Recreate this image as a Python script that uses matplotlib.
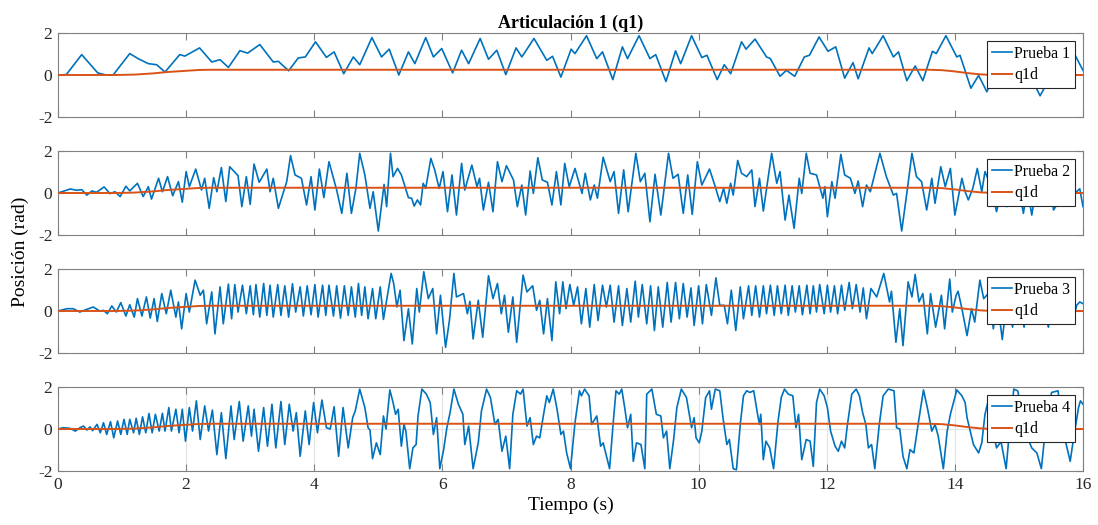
import matplotlib
matplotlib.use("Agg")
import matplotlib.pyplot as plt

# ---------------- data ----------------
p1 = [(0, 0), (0.13, 0.02), (0.37, 0.97), (0.62, 0.1), (0.75, 0.0), (0.86, 0.0), (1.12, 1.02), (1.25, 0.78),
      (1.41, 0.54), (1.54, 0.49), (1.67, 0.14), (1.90, 0.97), (1.98, 0.9), (2.21, 1.29), (2.40, 0.62),
      (2.53, 0.73), (2.66, 0.36), (2.84, 1.16), (2.96, 1.04), (3.15, 1.45), (3.36, 0.62), (3.44, 0.65),
      (3.60, 0.2), (3.75, 0.81), (3.86, 0.86), (4.02, 1.58), (4.19, 0.84), (4.31, 1.1), (4.46, 0.06),
      (4.61, 0.86), (4.71, 0.49), (4.90, 1.78), (5.05, 0.86), (5.17, 1.23), (5.32, 0.0), (5.47, 1.1),
      (5.57, 0.54), (5.74, 1.78), (5.86, 0.86), (5.99, 1.26), (6.16, 0.1), (6.30, 1.18), (6.41, 0.54),
      (6.59, 1.74), (6.72, 0.75), (6.85, 1.18), (6.99, 0.02), (7.15, 1.29), (7.24, 0.86), (7.43, 1.74),
      (7.63, 0.7), (7.72, 0.89), (7.85, -0.1), (8.01, 1.23), (8.07, 1.02), (8.25, 1.87), (8.41, 0.78),
      (8.50, 1.1), (8.66, -0.22), (8.81, 1.34), (8.89, 0.78), (9.07, 1.87), (9.24, 0.78), (9.33, 0.97),
      (9.49, -0.31), (9.64, 1.15), (9.72, 0.54), (9.89, 1.87), (10.05, 0.83), (10.13, 0.94), (10.29, -0.22),
      (10.40, 0.49), (10.50, 0.06), (10.67, 1.58), (10.74, 1.23), (10.88, 1.71), (11.06, 0.86), (11.12, 0.78),
      (11.27, -0.06), (11.37, 0.22), (11.50, -0.06), (11.65, 0.86), (11.73, 0.94), (11.88, 1.81), (12.02, 1.13),
      (12.14, 1.34), (12.28, -0.15), (12.41, 0.59), (12.49, -0.18), (12.66, 1.29), (12.71, 1.02), (12.88, 1.87),
      (13.04, 0.86), (13.12, 1.1), (13.25, -0.27), (13.38, 0.43), (13.50, -0.27), (13.65, 1.13), (13.71, 1.02),
      (13.86, 1.87), (14.03, 0.86), (14.08, 0.94), (14.25, -0.63), (14.37, -0.02), (14.50, -0.8), (14.72, 0.9),
      (14.95, 0.2), (15.05, 0.45), (15.20, -0.18), (15.33, -0.99), (15.43, -0.43), (15.72, 1.5), (15.85, 1.1),
      (16.0, 0.22)]

p2 = [(0, 0), (0.19, 0.19), (0.29, 0.13), (0.37, 0.16), (0.45, -0.1), (0.53, 0.1), (0.60, 0.03), (0.72, 0.29),
      (0.81, -0.03), (0.89, 0.06), (0.97, -0.17), (1.06, 0.32), (1.12, 0.1), (1.24, 0.46), (1.33, -0.17),
      (1.41, 0.3), (1.46, -0.29), (1.57, 0.7), (1.63, 0.06), (1.71, 0.78), (1.79, -0.13), (1.88, 0.54),
      (1.94, -0.44), (2.00, 1.02), (2.05, 0.3), (2.15, 1.14), (2.24, 0.14), (2.29, 0.7), (2.36, -0.73),
      (2.43, 0.73), (2.48, 0.06), (2.55, 1.21), (2.62, -0.41), (2.68, 1.25), (2.81, 0.83), (2.87, -0.65),
      (2.94, 0.78), (3.00, -0.54), (3.06, 1.38), (3.14, 0.51), (3.26, 1.14), (3.31, 0.06), (3.36, 0.7),
      (3.44, -0.73), (3.52, 0.06), (3.57, 0.54), (3.63, 1.78), (3.70, 0.86), (3.80, 0.7), (3.88, -0.57),
      (3.95, 0.78), (4.01, -0.81), (4.08, 1.14), (4.15, -0.22), (4.23, 1.49), (4.35, 0.14), (4.43, -0.97),
      (4.51, 0.94), (4.58, -0.97), (4.65, 0.22), (4.71, 1.89), (4.79, 0.86), (4.87, -0.73), (4.92, 0.06),
      (5.00, -1.81), (5.09, 0.41), (5.13, -0.65), (5.19, 1.89), (5.23, 0.78), (5.30, 1.17), (5.36, 0.86),
      (5.47, -0.22), (5.52, -0.25), (5.56, -0.62), (5.61, -0.33), (5.66, -0.57), (5.70, 0.46), (5.74, 0.22),
      (5.82, 1.65), (5.88, 1.1), (5.95, 0.22), (6.01, 1.02), (6.08, -0.89), (6.15, 0.86), (6.22, -1.05),
      (6.30, 1.41), (6.35, 0.14), (6.46, 1.33), (6.54, 0.3), (6.58, 0.7), (6.64, -0.81), (6.72, 0.51),
      (6.79, -0.89), (6.86, 1.49), (6.93, 0.54), (7.00, 1.3), (7.11, 0.62), (7.17, -0.65), (7.24, 0.38),
      (7.30, -1.05), (7.37, 1.05), (7.42, -0.02), (7.49, 1.68), (7.56, 0.62), (7.64, 0.51), (7.71, -0.57),
      (7.78, 1.02), (7.85, -0.57), (7.91, 1.41), (7.98, 0.3), (8.07, 1.17), (8.18, -0.02), (8.23, 0.94),
      (8.31, -0.33), (8.37, 0.38), (8.42, -0.25), (8.51, 1.7), (8.62, 0.54), (8.68, 1.02), (8.75, -0.97),
      (8.83, 1.1), (8.90, -0.89), (9.02, 1.89), (9.09, 0.54), (9.16, 0.94), (9.24, -1.37), (9.32, 0.89),
      (9.41, -1.05), (9.53, 1.89), (9.60, 0.7), (9.68, 0.89), (9.76, -0.97), (9.83, 0.86), (9.90, -1.02),
      (9.98, 1.49), (10.05, 0.38), (10.17, 1.14), (10.26, 0.3), (10.33, -0.41), (10.39, 0.22), (10.44, -0.49),
      (10.50, 0.46), (10.54, -0.1), (10.61, 1.55), (10.67, 0.94), (10.75, 0.78), (10.83, 1.1), (10.88, -0.65),
      (10.95, 0.7), (11.01, -0.86), (11.14, 1.89), (11.22, 0.46), (11.27, 1.02), (11.35, -1.29), (11.41, -0.1),
      (11.49, -1.68), (11.57, 0.7), (11.61, -0.02), (11.68, 1.89), (11.74, 0.94), (11.84, 0.86), (11.94, -0.25),
      (11.97, 0.3), (12.01, -1.13), (12.08, 0.54), (12.13, -0.25), (12.22, 1.84), (12.28, 0.86), (12.37, 0.7),
      (12.44, -0.02), (12.49, 0.57), (12.56, -0.65), (12.62, 0.38), (12.68, 0.06), (12.83, 1.89), (12.93, 0.78),
      (13.04, -0.1), (13.09, -0.02), (13.17, -1.81), (13.26, 0.22), (13.33, 1.89), (13.40, 0.78), (13.48, 0.54),
      (13.56, -0.81), (13.64, 0.7), (13.69, -0.49), (13.78, 1.25), (13.85, 0.3), (13.93, 1.17), (14.00, -1.05),
      (14.11, 0.7), (14.16, 0.06), (14.21, -0.33), (14.28, 0.22), (14.35, 1.17), (14.42, 0.06), (14.47, 1.02),
      (14.57, 0.3), (14.65, -0.89), (14.72, 0.0), (14.76, -0.33), (14.81, -0.65), (14.90, 0.9), (15.00, 0.2),
      (15.07, -0.97), (15.13, 0.3), (15.20, -1.05), (15.30, 0.8), (15.40, 0.4), (15.47, 1.0), (15.54, -0.81),
      (15.64, -0.33), (15.70, 0.7), (15.80, 0.3), (15.90, 0.06), (15.95, 0.2), (16.0, -0.65)]

p3 = [(0, 0), (0.14, 0.11), (0.24, 0.11), (0.34, -0.05), (0.45, 0.08), (0.55, 0.19), (0.65, 0.0), (0.71, 0.03),
      (0.77, -0.13), (0.84, 0.24), (0.91, -0.05), (0.98, 0.4), (1.06, -0.24), (1.12, 0.3), (1.19, -0.29),
      (1.24, 0.59), (1.31, -0.24), (1.38, 0.67), (1.44, -0.34), (1.50, 0.59), (1.55, -0.5), (1.62, 0.83),
      (1.69, -0.13), (1.76, 0.99), (1.84, -0.29), (1.88, 0.43), (1.93, -0.85), (2.00, 0.83), (2.05, -0.05),
      (2.14, 1.47), (2.22, 0.75), (2.27, 0.99), (2.32, -0.61), (2.40, 0.91), (2.45, -1.09), (2.53, 1.15),
      (2.58, -0.61), (2.66, 1.28), (2.71, -0.37), (2.76, 1.26), (2.81, -0.05), (2.88, 1.23), (2.94, -0.13),
      (3.00, 1.2), (3.05, -0.18), (3.09, 1.26), (3.15, -0.29), (3.21, 1.31), (3.26, -0.21), (3.31, 1.23),
      (3.36, -0.29), (3.43, 1.26), (3.48, -0.21), (3.54, 1.2), (3.60, -0.29), (3.66, 1.3), (3.71, -0.05),
      (3.78, 1.15), (3.83, -0.24), (3.89, 1.2), (3.95, -0.18), (4.01, 1.26), (4.06, -0.29), (4.13, 1.23),
      (4.18, -0.21), (4.23, 1.23), (4.30, -0.24), (4.35, 1.2), (4.41, -0.34), (4.47, 1.2), (4.53, -0.21),
      (4.58, 1.15), (4.64, -0.29), (4.69, 1.31), (4.74, -0.21), (4.79, 1.15), (4.84, -0.37), (4.91, 1.07),
      (4.96, -0.37), (5.03, 1.15), (5.08, -0.4), (5.20, 1.79), (5.24, 1.31), (5.29, 0.19), (5.34, 0.99),
      (5.40, -1.41), (5.47, 0.11), (5.53, -1.57), (5.60, 1.07), (5.64, -0.05), (5.71, 1.87), (5.78, 0.59),
      (5.85, 1.07), (5.91, -1.09), (5.97, 0.75), (6.05, -1.73), (6.11, -0.45), (6.18, 1.79), (6.22, 0.67),
      (6.33, 0.83), (6.39, -0.13), (6.43, 0.46), (6.48, -1.33), (6.56, 0.51), (6.63, -1.25), (6.72, 1.68),
      (6.79, 0.59), (6.86, 1.31), (6.92, -0.13), (6.97, 0.75), (7.03, -1.01), (7.10, 0.67), (7.16, -1.49),
      (7.26, 1.71), (7.32, 0.91), (7.41, 1.2), (7.47, 0.03), (7.52, 0.51), (7.58, -1.09), (7.64, 0.59),
      (7.71, -1.41), (7.77, 1.39), (7.83, -0.13), (7.88, 1.39), (7.93, 0.11), (7.99, 1.26), (8.05, 0.27),
      (8.11, 1.15), (8.17, -0.61), (8.24, 1.07), (8.30, -0.77), (8.37, 1.26), (8.43, -0.45), (8.50, 1.23),
      (8.56, 0.19), (8.62, 1.23), (8.68, -0.53), (8.75, 1.2), (8.81, -0.69), (8.88, 1.07), (8.94, -0.53),
      (9.01, 1.42), (9.06, -0.29), (9.12, 1.26), (9.19, -0.61), (9.25, 1.2), (9.31, -0.93), (9.37, 1.15),
      (9.44, -0.77), (9.51, 1.36), (9.57, -0.53), (9.64, 1.36), (9.70, -0.37), (9.76, 1.31), (9.82, -0.29),
      (9.88, 1.1), (9.93, -0.69), (10.00, 1.2), (10.06, -0.61), (10.12, 1.26), (10.20, -0.21), (10.27, 1.58),
      (10.33, 0.27), (10.40, 0.27), (10.45, -0.61), (10.51, 0.99), (10.58, -0.93), (10.65, 1.15),
      (10.70, -0.37), (10.78, 1.2), (10.83, -0.21), (10.89, 1.2), (10.95, -0.29), (11.01, 1.2), (11.06, -0.13),
      (11.12, 1.23), (11.18, -0.21), (11.23, 1.2), (11.29, -0.13), (11.35, 1.23), (11.40, -0.21), (11.46, 1.2),
      (11.51, -0.05), (11.57, 1.2), (11.62, -0.18), (11.69, 1.23), (11.74, -0.13), (11.79, 1.2), (11.84, -0.05),
      (11.89, 1.26), (11.96, -0.13), (12.01, 1.23), (12.06, -0.05), (12.12, 1.2), (12.17, -0.13), (12.23, 1.23),
      (12.28, 0.03), (12.35, 1.36), (12.40, 0.11), (12.46, 1.26), (12.52, -0.05), (12.57, 1.1), (12.62, -0.37),
      (12.69, 1.07), (12.78, 0.67), (12.89, 1.79), (12.98, 0.43), (13.01, 0.94), (13.08, -1.49), (13.14, 0.11),
      (13.19, -1.65), (13.27, 1.39), (13.33, 0.67), (13.38, 1.74), (13.44, 0.43), (13.50, 0.83), (13.57, -1.09),
      (13.62, 0.83), (13.70, -0.77), (13.79, 0.75), (13.84, -0.85), (13.92, 1.52), (13.96, -0.05), (14.02, 0.75),
      (14.05, 0.94), (14.11, 0.11), (14.19, -1.17), (14.26, 0.11), (14.31, -0.53), (14.39, 1.47), (14.45, 0.59),
      (14.52, 0.83), (14.56, 0.3), (14.60, -0.85), (14.66, 0.6), (14.74, -1.36), (14.82, 0.8), (14.90, -0.77),
      (14.98, 0.9), (15.08, -0.77), (15.15, 0.8), (15.22, 0.2), (15.30, 1.0), (15.38, 0.2), (15.46, -0.77),
      (15.54, 0.9), (15.62, 0.2), (15.70, 1.0), (15.78, 0.3), (15.84, -0.61), (15.90, 0.27), (15.95, 0.43),
      (16.0, 0.35)]

p4 = [(0, 0), (0.08, 0.06), (0.19, 0.03), (0.27, -0.1), (0.34, 0.06), (0.40, 0.14), (0.45, -0.05), (0.50, 0.1),
      (0.54, -0.08), (0.58, 0.1), (0.61, 0.22), (0.66, -0.18), (0.71, 0.3), (0.76, -0.26), (0.82, 0.35),
      (0.87, -0.42), (0.93, 0.38), (0.98, -0.26), (1.03, 0.46), (1.08, -0.26), (1.12, 0.46), (1.18, -0.18),
      (1.22, 0.51), (1.27, -0.26), (1.32, 0.58), (1.37, -0.18), (1.42, 0.74), (1.47, -0.18), (1.52, 0.7),
      (1.58, -0.1), (1.63, 0.75), (1.67, -0.1), (1.73, 1.02), (1.77, -0.1), (1.84, 0.94), (1.89, -0.18),
      (1.94, 0.94), (1.99, -0.58), (2.05, 1.02), (2.10, -0.1), (2.16, 1.34), (2.22, -0.5), (2.29, 1.1),
      (2.35, -0.1), (2.41, 0.9), (2.48, -1.22), (2.55, 0.78), (2.62, -1.41), (2.70, 1.1), (2.75, -0.5),
      (2.83, 1.31), (2.89, -0.58), (2.97, 1.1), (3.02, -0.34), (3.06, 0.94), (3.13, -1.06), (3.21, 1.02),
      (3.27, -0.82), (3.34, 1.18), (3.40, -0.9), (3.48, 1.31), (3.54, -0.74), (3.61, 1.18), (3.67, -0.1),
      (3.72, 0.78), (3.78, -1.3), (3.86, 0.86), (3.92, -0.74), (3.99, 1.26), (4.05, -0.18), (4.12, 1.38),
      (4.19, 0.06), (4.25, 0.0), (4.31, 1.06), (4.38, -1.3), (4.45, 1.02), (4.53, -0.9), (4.60, 0.54),
      (4.64, 0.86), (4.71, 1.9), (4.79, 1.02), (4.84, 0.06), (4.87, -0.05), (4.91, -1.41), (4.97, -0.66),
      (5.03, -1.22), (5.08, 0.62), (5.12, 0.0), (5.18, 1.86), (5.23, 1.26), (5.27, 0.7), (5.31, 0.94),
      (5.36, -0.82), (5.40, 0.22), (5.43, -0.1), (5.49, -1.89), (5.54, -0.9), (5.59, -0.74), (5.62, 0.62),
      (5.68, 1.9), (5.75, 1.66), (5.81, 1.26), (5.86, -0.26), (5.91, 0.54), (5.96, -1.89), (6.02, -0.98),
      (6.07, 0.06), (6.12, 0.78), (6.18, 1.9), (6.25, 1.18), (6.32, 0.7), (6.35, -0.74), (6.41, 0.14),
      (6.48, -1.89), (6.56, -0.66), (6.61, 0.86), (6.69, 1.9), (6.75, 1.5), (6.82, 0.22), (6.87, 0.46),
      (6.93, -1.06), (6.99, -0.34), (7.05, -1.89), (7.10, 0.7), (7.16, 1.82), (7.22, 1.66), (7.26, 1.9),
      (7.32, 0.14), (7.37, 0.54), (7.42, -0.74), (7.47, -0.34), (7.52, -0.42), (7.58, 0.7), (7.63, 1.58),
      (7.67, 1.26), (7.73, 1.9), (7.79, 0.94), (7.85, -0.26), (7.89, -0.1), (7.94, -1.14), (8.00, -1.89),
      (8.07, 0.3), (8.14, 1.82), (8.17, 1.58), (8.22, 1.9), (8.29, 1.58), (8.33, 0.22), (8.41, 0.62),
      (8.47, -0.82), (8.51, -0.66), (8.61, -1.89), (8.66, 0.06), (8.71, 1.82), (8.76, 1.66), (8.80, 1.9),
      (8.85, 0.94), (8.89, 0.06), (8.94, 0.7), (8.98, -1.54), (9.03, -0.66), (9.10, -0.74), (9.16, -1.89),
      (9.19, 1.66), (9.27, 1.9), (9.34, 0.7), (9.41, 0.62), (9.45, -0.42), (9.50, -0.1), (9.55, -1.89),
      (9.61, -0.5), (9.66, 1.02), (9.73, 1.9), (9.81, 1.5), (9.89, 0.06), (9.93, 0.54), (9.96, -0.42),
      (10.01, -0.66), (10.05, -0.1), (10.11, 1.5), (10.17, 1.82), (10.20, 0.94), (10.26, 1.9), (10.33, 1.82),
      (10.38, 0.54), (10.44, -0.74), (10.48, -0.5), (10.54, -1.89), (10.59, -1.94), (10.65, 0.22),
      (10.70, 1.58), (10.75, 1.82), (10.80, 1.74), (10.86, 1.82), (10.92, 0.7), (10.95, 0.22), (10.97, 0.7),
      (11.01, -1.46), (11.05, -0.58), (11.11, -0.9), (11.17, -1.89), (11.24, 0.38), (11.29, 1.5), (11.34, 1.9),
      (11.40, 1.66), (11.47, 1.58), (11.52, 0.06), (11.56, 0.7), (11.61, -1.46), (11.68, -0.5), (11.74, -0.58),
      (11.79, -1.78), (11.84, 1.26), (11.89, 1.9), (11.96, 1.58), (12.01, 1.02), (12.06, -0.1), (12.13, -0.82),
      (12.18, -1.06), (12.23, -0.58), (12.28, -0.9), (12.32, 0.14), (12.39, 1.66), (12.46, 1.9), (12.51, 1.58),
      (12.56, 0.78), (12.61, 0.22), (12.65, -0.9), (12.70, -0.74), (12.75, -1.89), (12.82, 0.22), (12.88, 1.58),
      (12.96, 1.9), (13.05, 1.82), (13.09, 0.06), (13.14, 0.0), (13.19, -1.3), (13.25, -1.89), (13.30, -0.98),
      (13.36, -1.14), (13.43, 0.3), (13.51, 1.86), (13.57, 1.02), (13.64, -0.1), (13.69, 0.22), (13.74, -0.34),
      (13.82, -1.89), (13.88, -0.1), (13.93, 0.7), (14.03, 1.86), (14.11, 1.58), (14.16, 1.26), (14.19, 0.54),
      (14.24, -0.1), (14.29, -0.74), (14.37, -1.14), (14.42, -0.66), (14.47, 0.7), (14.52, 1.34), (14.58, 0.2),
      (14.65, -0.9), (14.72, -0.6), (14.80, -1.89), (14.86, 0.2), (14.92, 1.9), (14.98, 1.82), (15.05, 0.8),
      (15.12, -0.3), (15.20, -0.9), (15.28, -1.14), (15.35, -1.89), (15.42, 0.2), (15.51, 1.74), (15.61, 1.82),
      (15.66, 0.6), (15.72, -0.5), (15.80, -1.54), (15.85, -0.5), (15.93, 1.02), (15.96, 1.34), (16.0, 1.18)]

q1d_t = [0, 0.9, 1.2, 1.5, 1.7, 2.0, 2.2, 2.4, 13.6, 13.8, 14.0, 14.2, 14.4, 14.6, 16.0]
q1d_y = [0, 0, 0.02, 0.08, 0.14, 0.2, 0.24, 0.25, 0.25, 0.23, 0.17, 0.09, 0.03, 0.0, 0.0]

series = [p1, p2, p3, p4]
series_labels = ["Prueba 1", "Prueba 2", "Prueba 3", "Prueba 4"]
ref_label = "q1d"
x_ticks = [0, 2, 4, 6, 8, 10, 12, 14, 16]
y_ticks = [-2, 0, 2]
title = "Articulación 1 (q1)"
xlabel = "Tiempo (s)"
ylabel = "Posición (rad)"

# ---------------- figure ----------------
plt.rcParams['font.family'] = ['Liberation Serif', 'DejaVu Serif']
plt.rcParams['axes.unicode_minus'] = False

W, H = 1098, 525
fig = plt.figure(figsize=(W / 100, H / 100), dpi=100)
blue = '#0072BD'
orange = '#D95319'
axcol = '#808080'

tops = [33, 151, 269, 387]
left_px, right_px = 58, 1083
h_px = 84

axes = []
for i, (pts, lab) in enumerate(zip(series, series_labels)):
    top = tops[i]
    ax = fig.add_axes([left_px / W, 1 - (top + h_px) / H, (right_px - left_px) / W, h_px / H])
    t = [p[0] for p in pts]
    y = [p[1] for p in pts]
    ax.plot(t, y, color=blue, lw=1.2, label=lab, zorder=3, solid_joinstyle='round')
    ax.plot(q1d_t, q1d_y, color=orange, lw=1.4, label=ref_label, zorder=4)
    ax.set_xlim(0, 16)
    ax.set_ylim(-2, 2)
    ax.set_xticks(x_ticks)
    ax.set_yticks(y_ticks)
    ax.tick_params(direction='in', length=5, width=0.8, colors='#262626', labelsize=12.5,
                   top=True, right=True, pad=4)
    ax.tick_params(axis='both', color=axcol)
    for s in ax.spines.values():
        s.set_color(axcol)
        s.set_linewidth(0.8)
    if i < 3:
        ax.set_xticklabels([])
    else:
        ax.grid(True, color='#e3e3e3', lw=0.8, zorder=0)
        ax.set_axisbelow(True)
    leg = ax.legend(loc='upper right', fontsize=11.5, handlelength=1.25, handletextpad=0.15,
                    borderpad=0.3, labelspacing=0.35, borderaxespad=0.5, fancybox=False,
                    framealpha=1, edgecolor='#262626')
    leg.get_frame().set_linewidth(0.8)
    leg.set_zorder(10)
    axes.append(ax)

axes[0].set_title(title, fontsize=13, fontweight='bold', pad=4)
axes[3].set_xlabel(xlabel, fontsize=14, labelpad=3)
fig.text(20 / W, 1 - 252 / H, ylabel, rotation=90, ha='center', va='center', fontsize=14)

fig.savefig('out.png', dpi=100)
